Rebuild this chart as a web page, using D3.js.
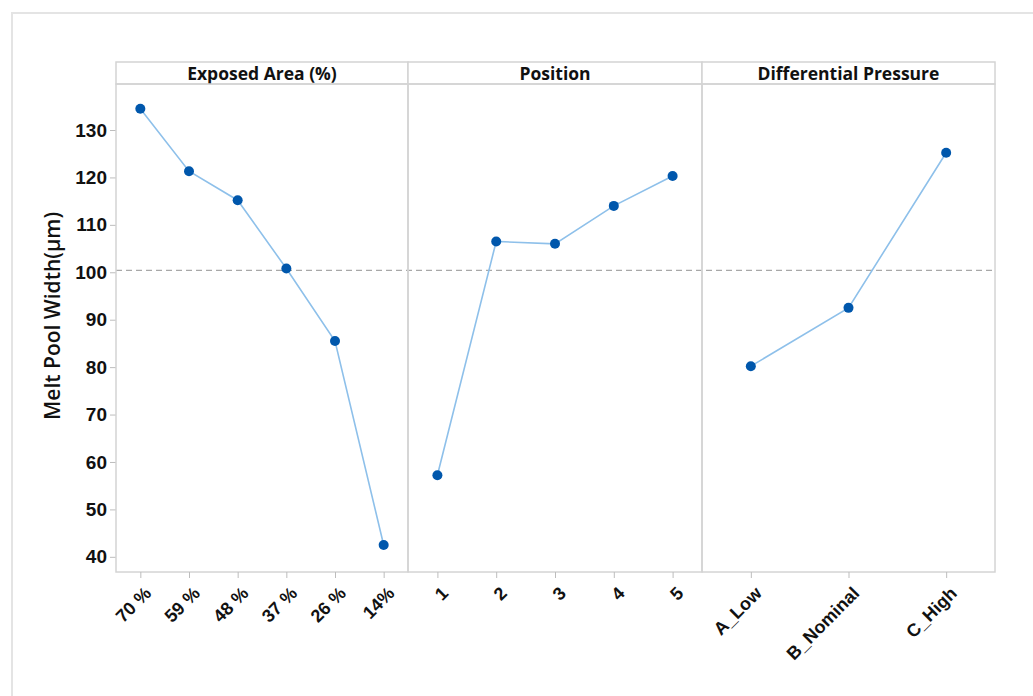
<!DOCTYPE html>
<html>
<head>
<meta charset="utf-8">
<script src="https://cdn.jsdelivr.net/npm/d3@7"></script>
<style>
  body { margin: 0; background: #fff; }
  svg { display: block; font-family: "Open Sans", "Noto Sans", sans-serif; }
</style>
</head>
<body>
<svg id="drawing_region"></svg>
<script>
// data
const panelTitles = ["Exposed Area (%)", "Position", "Differential Pressure"];
const areaLevels = ["70 %", "59 %", "48 %", "37 %", "26 %", "14%"];
const areaMeans = [134.5, 121.3, 115.2, 100.8, 85.5, 42.5];
const positionLevels = ["1", "2", "3", "4", "5"];
const positionMeans = [57.2, 106.5, 106.0, 114.0, 120.3];
const pressureLevels = ["A_Low", "B_Nominal", "C_High"];
const pressureMeans = [80.2, 92.5, 125.2];
const yTicks = [40, 50, 60, 70, 80, 90, 100, 110, 120, 130];
const grandMean = 100.4;

const config = {
    width: 1033,
    height: 696,
    margin: {top: 84, right: 38, bottom: 124, left: 116},
    header: 22
};

const svg = d3.select('#drawing_region')
    .attr('width', config.width)
    .attr('height', config.height);

// faint outer frame
svg.append('path')
    .attr('d', `M12,${config.height} V13 H${config.width}`)
    .attr('fill', 'none')
    .attr('stroke', '#e4e4e4')
    .attr('stroke-width', 2);

const inner_width = config.width - config.margin.left - config.margin.right;
const inner_height = config.height - config.margin.top - config.margin.bottom;

const chart = svg.append('g')
    .attr('transform', `translate(${config.margin.left}, ${config.margin.top})`);

const yscale = d3.scaleLinear()
    .domain([36.8, 139.7])
    .range([inner_height, 0]);

const panels = [
    {title: panelTitles[0], levels: areaLevels, values: areaMeans, x0: 0, x1: 292},
    {title: panelTitles[1], levels: positionLevels, values: positionMeans, x0: 292, x1: 586},
    {title: panelTitles[2], levels: pressureLevels, values: pressureMeans, x0: 586, x1: inner_width}
];

const gridColor = '#d4d4d4';

// y axis
const yaxis = d3.axisLeft(yscale).tickValues(yTicks).tickSize(6).tickSizeOuter(0);
const yaxis_group = chart.append('g').call(yaxis);
yaxis_group.select('.domain').remove();
yaxis_group.selectAll('line').attr('stroke', '#bdbdbd');
yaxis_group.selectAll('text')
    .attr('x', -9)
    .attr('fill', '#111')
    .attr('font-size', '19px')
    .attr('font-weight', 600);

svg.append('text')
    .attr('transform', `translate(60, 316) rotate(-90)`)
    .attr('text-anchor', 'middle')
    .attr('font-size', '21px')
    .attr('font-weight', 600)
    .attr('fill', '#111')
    .text('Melt Pool Width(\u03bcm)');

// grand mean reference line
chart.append('line')
    .attr('x1', 0).attr('x2', inner_width)
    .attr('y1', yscale(grandMean)).attr('y2', yscale(grandMean))
    .attr('stroke', '#a8a8a8')
    .attr('stroke-width', 1.3)
    .attr('stroke-dasharray', '6,4');

const line = d3.line();

panels.forEach(p => {
    const xscale = d3.scalePoint()
        .domain(p.levels)
        .range([p.x0, p.x1])
        .padding(0.5);

    // header strip
    chart.append('rect')
        .attr('x', p.x0).attr('y', -config.header)
        .attr('width', p.x1 - p.x0).attr('height', config.header)
        .attr('fill', '#fff')
        .attr('stroke', gridColor)
        .attr('stroke-width', 1.5);
    chart.append('text')
        .attr('x', (p.x0 + p.x1) / 2)
        .attr('y', -config.header / 2 + 6.5)
        .attr('text-anchor', 'middle')
        .attr('font-size', '17.5px')
        .attr('font-weight', 700)
        .attr('fill', '#111')
        .text(p.title);

    // panel box
    chart.append('rect')
        .attr('x', p.x0).attr('y', 0)
        .attr('width', p.x1 - p.x0).attr('height', inner_height)
        .attr('fill', 'none')
        .attr('stroke', gridColor)
        .attr('stroke-width', 1.5);

    // x axis
    const xaxis = d3.axisBottom(xscale).tickSize(6).tickSizeOuter(0);
    const xg = chart.append('g')
        .attr('transform', `translate(0, ${inner_height})`)
        .call(xaxis);
    xg.select('.domain').remove();
    xg.selectAll('line').attr('stroke', '#bdbdbd');
    xg.selectAll('text')
        .attr('text-anchor', 'end')
        .attr('font-size', '18px')
        .attr('font-weight', 600)
        .attr('fill', '#111')
        .attr('transform', 'translate(7, 18) rotate(-45)')
        .attr('dy', '0.35em')
        .attr('y', 0)
        .attr('x', 0);

    const pts = p.levels.map((lv, i) => [xscale(lv), yscale(p.values[i])]);
    chart.append('path')
        .datum(pts)
        .attr('d', line)
        .attr('fill', 'none')
        .attr('stroke', '#8ec0ea')
        .attr('stroke-width', 1.6);

    chart.append('g')
        .selectAll('circle')
        .data(pts)
        .join('circle')
        .attr('cx', d => d[0])
        .attr('cy', d => d[1])
        .attr('r', 5)
        .attr('fill', '#0057ac');
});
</script>
</body>
</html>
